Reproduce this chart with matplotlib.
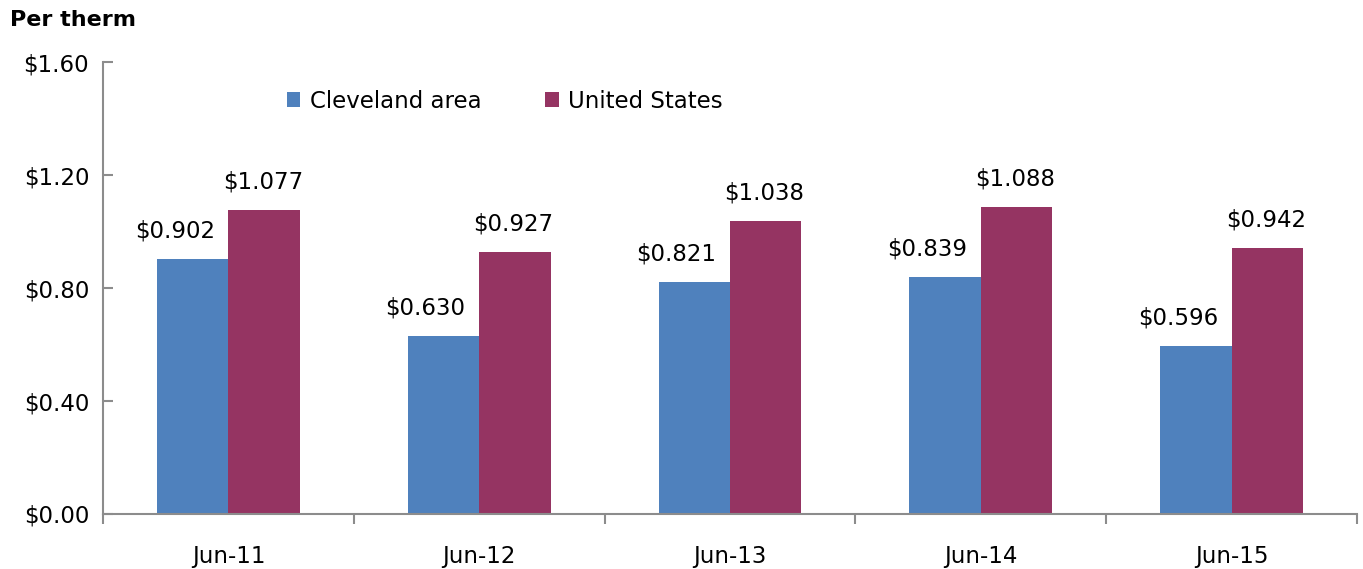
import matplotlib.pyplot as plt
import numpy as np

CATEGORIES = ["Jun-11", "Jun-12", "Jun-13", "Jun-14", "Jun-15"]
CLEVELAND = [0.902, 0.630, 0.821, 0.839, 0.596]
US = [1.077, 0.927, 1.038, 1.088, 0.942]
SERIES_NAMES = ["Cleveland area", "United States"]
COLORS = ["#4f81bd", "#953462"]
AXIS_GRAY = "#8c8c8c"

plt.rcParams["font.family"] = ["DejaVu Sans"]
FS = 16.5

fig = plt.figure(figsize=(13.63, 5.69), dpi=100)
ax = fig.add_axes([0.0756, 0.0967, 0.92, 0.794])

x = np.arange(len(CATEGORIES))
width = 0.285
bars_a = ax.bar(x - width / 2, CLEVELAND, width, color=COLORS[0], label=SERIES_NAMES[0])
bars_b = ax.bar(x + width / 2, US, width, color=COLORS[1], label=SERIES_NAMES[1])

# Excel nudges the shorter series' labels left so they clear the taller bar
for bars, dx in ((bars_a, -13), (bars_b, -1)):
    for b in bars:
        h = b.get_height()
        ax.annotate(f"${h:.3f}", (b.get_x() + b.get_width() / 2, h),
                    xytext=(dx, 12), textcoords="offset points",
                    ha="center", va="bottom", fontsize=FS)

ax.set_xlim(-0.5, len(CATEGORIES) - 0.5)
ax.set_ylim(0, 1.6)
ax.set_yticks([0, 0.4, 0.8, 1.2, 1.6])
ax.set_yticklabels([f"${v:.2f}" for v in [0, 0.4, 0.8, 1.2, 1.6]], fontsize=FS)
ax.set_xticks(x)
ax.set_xticklabels(CATEGORIES, fontsize=FS)
ax.set_xticks(np.arange(len(CATEGORIES) + 1) - 0.5, minor=True)
ax.tick_params(axis="x", which="major", length=0, pad=22)
ax.tick_params(axis="x", which="minor", length=7, direction="out", color=AXIS_GRAY, width=1.5)
ax.tick_params(axis="y", length=7, direction="in", color=AXIS_GRAY, width=1.5, pad=10)

for side in ("top", "right"):
    ax.spines[side].set_visible(False)
for side in ("left", "bottom"):
    ax.spines[side].set_color(AXIS_GRAY)
    ax.spines[side].set_linewidth(1.5)

ax.legend(loc="upper left", bbox_to_anchor=(0.13, 0.985), ncol=2, frameon=False,
          fontsize=FS, handlelength=0.6, handleheight=0.6, handletextpad=0.4,
          columnspacing=2.8)

fig.text(0.007, 0.965, "Per therm", fontsize=16, fontweight="bold", ha="left", va="center")

fig.savefig("out.png", dpi=100)
